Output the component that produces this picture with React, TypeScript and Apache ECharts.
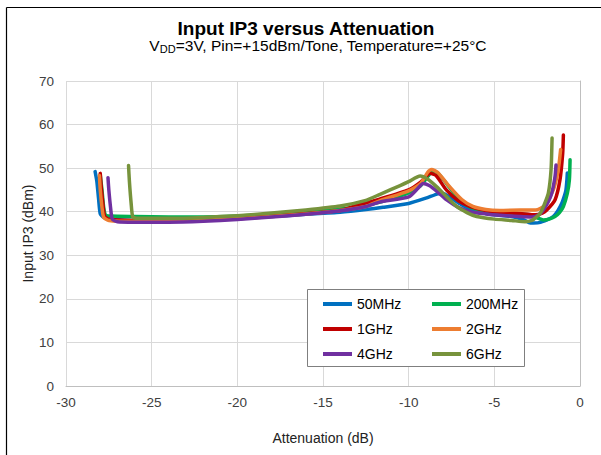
import React, { useEffect, useRef } from "react";
import * as echarts from "echarts";

const seriesNames = ["50MHz", "200MHz", "1GHz", "2GHz", "4GHz", "6GHz"];
const seriesColors = ["#0070C0", "#00B050", "#C00000", "#ED7D31", "#7030A0", "#77933C"];

const s50MHz = [
  [-28.3, 49.2], [-28.2, 47], [-28.1, 43], [-28.0, 39.5], [-27.8, 38.7], [-27.3, 38.3], [-26, 38.0],
  [-24, 37.8], [-22, 38.0], [-20, 38.4], [-18, 38.9], [-16, 39.4], [-14, 39.9], [-12.5, 40.5],
  [-11.5, 41.0], [-10, 41.9], [-9, 43.1], [-8.3, 44.1], [-8.0, 44.2], [-7.6, 43.4], [-7.0, 41.8],
  [-6.4, 40.5], [-5.8, 39.8], [-5, 39.3], [-4, 38.9], [-3.3, 38.2], [-2.9, 37.4], [-2.4, 37.5],
  [-1.9, 38.2], [-1.56, 38.9], [-1.3, 40.2], [-1.07, 41.9], [-0.9, 43.8], [-0.82, 45], [-0.76, 47.5],
  [-0.74, 48.9],
];
const s200MHz = [
  [-28.0, 48.4], [-27.9, 45], [-27.8, 41], [-27.7, 39.3], [-27.4, 39.0], [-26, 38.9], [-24, 38.8],
  [-22, 38.8], [-20, 39.0], [-18, 39.4], [-16, 39.9], [-14, 40.6], [-12.5, 41.5], [-11.5, 42.4],
  [-10, 44.3], [-9.3, 46.0], [-8.9, 48.0], [-8.6, 49.3], [-8.3, 48.9], [-7.8, 46.5], [-7.2, 43.5],
  [-6.6, 41.5], [-6.0, 40.5], [-5, 40.0], [-4, 39.7], [-3, 39.3], [-2.5, 38.6], [-2.14, 38.1],
  [-1.8, 38.3], [-1.46, 38.9], [-1.2, 39.8], [-0.97, 41.2], [-0.74, 44.2], [-0.62, 47.3], [-0.58, 51.9],
];
const s1GHz = [
  [-28.0, 48.8], [-27.95, 46], [-27.85, 42], [-27.75, 39.0], [-27.5, 38.3], [-26, 38.0], [-24, 37.9],
  [-22, 38.1], [-20, 38.5], [-18, 39.0], [-16, 39.6], [-14, 40.3], [-13, 41.5], [-11.7, 42.9],
  [-10, 45.0], [-9.3, 46.8], [-8.75, 48.8], [-8.4, 48.3], [-7.8, 45.0], [-7.1, 42.5], [-6.4, 41.2],
  [-5.5, 40.3], [-4.7, 39.9], [-3.5, 39.6], [-2.6, 39.3], [-2.2, 39.7], [-1.94, 40.4], [-1.46, 42.7],
  [-1.17, 47.3], [-1.01, 53.4], [-0.97, 57.6],
];
const s2GHz = [
  [-28.05, 48.3], [-28.0, 45], [-27.9, 41], [-27.8, 38.7], [-27.5, 38.0], [-26, 37.8], [-24, 37.8],
  [-22, 38.0], [-20, 38.4], [-18, 38.9], [-16, 39.5], [-14, 40.3], [-12.5, 41.2], [-11.7, 42.5],
  [-10, 44.8], [-9.3, 46.5], [-8.9, 49.0], [-8.66, 49.7], [-8.3, 49.0], [-7.6, 45.7], [-6.9, 42.8],
  [-6.25, 41.2], [-5.5, 40.5], [-4.67, 40.3], [-3.5, 40.4], [-2.6, 40.4], [-2.3, 40.8], [-2.04, 41.5],
  [-1.56, 45], [-1.27, 49.6], [-1.13, 54.3],
];
const s4GHz = [
  [-27.55, 47.8], [-27.5, 45], [-27.4, 41], [-27.3, 38.3], [-27.0, 37.7], [-26, 37.6], [-24, 37.6],
  [-22, 37.8], [-20, 38.2], [-18, 38.8], [-16, 39.4], [-14, 40.2], [-12.5, 41.2], [-11.7, 42.2],
  [-10, 43.4], [-9.5, 45.2], [-9.16, 46.5], [-8.8, 46.0], [-8.3, 44.5], [-7.78, 42.7], [-7.1, 41.0],
  [-6.42, 40.0], [-5.5, 39.5], [-4.67, 39.2], [-3.5, 38.9], [-2.8, 38.8], [-2.4, 39.3], [-2.14, 40.4],
  [-1.85, 42.3], [-1.65, 44.2], [-1.46, 48], [-1.4, 50.7],
];
const s6GHz = [
  [-26.35, 50.6], [-26.3, 47], [-26.2, 42], [-26.1, 38.8], [-25.8, 38.5], [-24, 38.5], [-22, 38.7],
  [-20, 39.1], [-18, 39.7], [-16, 40.4], [-14, 41.3], [-12.5, 42.6], [-11.67, 44.0], [-10.5, 46.0],
  [-10, 46.9], [-9.33, 48.2], [-8.9, 47.5], [-8.36, 45.7], [-7.8, 43.5], [-7.2, 41.2], [-6.6, 39.8],
  [-6.03, 38.9], [-5, 38.3], [-4, 38.0], [-3.2, 37.7], [-2.8, 38.0], [-2.6, 38.6], [-2.33, 39.6],
  [-2.1, 41.5], [-1.85, 44.2], [-1.69, 49.6], [-1.63, 56.9],
];
const allSeries = [s50MHz, s200MHz, s1GHz, s2GHz, s4GHz, s6GHz];

const titleText = "Input IP3 versus Attenuation";
const xAxisName = "Attenuation (dB)";
const yAxisName = "Input IP3 (dBm)";

const FONT = "'Liberation Sans', Arial, sans-serif";
const legendIcon = "path://M0,0 H29 V4 H0 Z";

export default function App() {
  const ref = useRef<HTMLDivElement>(null);
  useEffect(() => {
    if (!ref.current) return;
    const chart = echarts.init(ref.current, null, { renderer: "svg" });
    const legendBase = {
      orient: "vertical" as const,
      top: 291,
      itemWidth: 29,
      itemHeight: 14,
      itemGap: 9,
      icon: legendIcon,
      textStyle: { fontFamily: FONT, fontSize: 14, color: "#000", lineHeight: 16 },
      selectedMode: false,
    };
    chart.setOption({
      animation: false,
      backgroundColor: "#fff",
      textStyle: { fontFamily: FONT },
      grid: { left: 66, right: 21, top: 81, bottom: 69, containLabel: false },
      xAxis: {
        type: "value",
        min: -30,
        max: 0,
        interval: 5,
        name: xAxisName,
        nameLocation: "middle",
        nameGap: 52,
        nameMoveOverlap: false,
        nameTextStyle: { fontFamily: FONT, fontSize: 14, color: "#222", verticalAlign: "middle", align: "center" },
        axisLine: { show: true, onZero: false, lineStyle: { color: "#bfbfbf" } },
        axisTick: { show: false },
        axisLabel: { fontFamily: FONT, fontSize: 13.5, color: "#404040", margin: 9 },
        splitLine: { show: true, lineStyle: { color: "#d9d9d9" } },
      },
      yAxis: {
        type: "value",
        min: 0,
        max: 70,
        interval: 10,
        name: yAxisName,
        nameLocation: "middle",
        nameGap: 38,
        nameMoveOverlap: false,
        nameTextStyle: { fontFamily: FONT, fontSize: 14, color: "#222", verticalAlign: "middle", align: "center" },
        axisLine: { show: true, lineStyle: { color: "#bfbfbf" } },
        axisTick: { show: false },
        axisLabel: { fontFamily: FONT, fontSize: 13.5, color: "#404040", margin: 12 },
        splitLine: { show: true, lineStyle: { color: "#d9d9d9" } },
      },
      legend: [
        { ...legendBase, left: 318, data: [seriesNames[0], seriesNames[2], seriesNames[4]] },
        { ...legendBase, left: 427, data: [seriesNames[1], seriesNames[3], seriesNames[5]] },
      ],
      graphic: [
        {
          type: "line",
          shape: { x1: 6.5, y1: 7.5, x2: 601, y2: 7.5 },
          style: { stroke: "#000", lineWidth: 1.2 },
          z: 10,
        },
        {
          type: "line",
          shape: { x1: 6.5, y1: 7.5, x2: 6.5, y2: 455 },
          style: { stroke: "#000", lineWidth: 1.2 },
          z: 10,
        },
        {
          type: "rect",
          shape: { x: 307.5, y: 289.5, width: 217, height: 77 },
          style: { fill: "#fff", stroke: "#7f7f7f", lineWidth: 1 },
          z: 3,
        },
        {
          type: "text",
          x: 306,
          y: 28,
          style: {
            text: titleText,
            fontFamily: FONT,
            fontSize: 19,
            fontWeight: "bold",
            fill: "#000",
            align: "center",
            verticalAlign: "middle",
          },
          z: 10,
        },
        {
          type: "text",
          x: 318,
          y: 45,
          style: {
            text: "V{sub|DD}=3V, Pin=+15dBm/Tone, Temperature=+25°C",
            fontFamily: FONT,
            fontSize: 15.5,
            fill: "#000",
            align: "center",
            verticalAlign: "middle",
            rich: {
              sub: { fontFamily: FONT, fontSize: 11, fill: "#000", padding: [8, 0, 0, 0] },
            },
          },
          z: 10,
        },
      ],
      series: allSeries.map((d, i) => ({
        name: seriesNames[i],
        type: "line",
        data: d,
        showSymbol: false,
        symbol: "none",
        smooth: 0.2,
        color: seriesColors[i],
        lineStyle: { width: 3.5, color: seriesColors[i], cap: "round", join: "round" },
        z: 2 + i * 0.01,
      })),
    });
    return () => chart.dispose();
  }, []);
  return (
    <div
      ref={ref}
      style={{ position: "fixed", left: 0, top: 0, width: 601, height: 455 }}
    />
  );
}
